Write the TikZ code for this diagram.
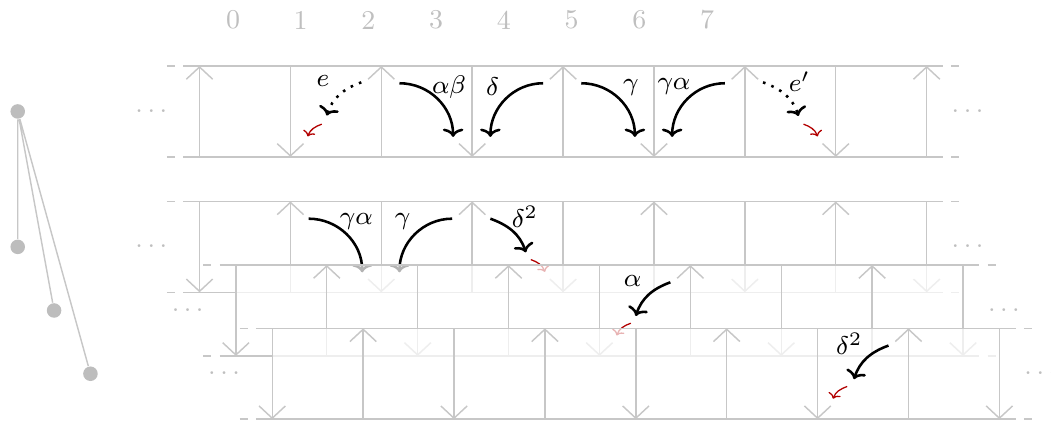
\documentclass[tikz,border=0pt]{standalone}
\usepackage{tikz}
\usetikzlibrary{arrows.meta}

\begin{document}
\begin{tikzpicture}[
	rail/.style={black!22, line width=0.45pt},
	rung/.style={black!22, line width=0.45pt, -{Straight Barb[length=0.135cm, width=0.29cm]}},
	veil/.style={fill=white, fill opacity=0.7},
	lab/.style={anchor=base, inner sep=0pt, font=\fontsize{8.5}{10}\selectfont},
	ell/.style={black!25, inner sep=0pt, font=\fontsize{8.5}{10}\selectfont},
	mor/.style={thick, -{To[length=2.6pt, width=6.4pt]}},
	kick/.style={red!70!black, line width=0.4pt, -{To[length=1.6pt, width=4pt]}},
	leaf/.style={circle, fill=black!26, inner sep=0pt, minimum size=0.16cm},
	twig/.style={black!22, line width=0.45pt}]
			\useasboundingbox (-2.195,-3.905) rectangle (9.368,0.726);
			% positions on top
			\foreach \n in {0,...,7}
				\node[ell] (p\n) at (0.3685+0.745*\n,0.506) {\n};
			% the tree on the left
			\node[leaf] (t0) at (-2,-0.5) {};
			\node[leaf] (t1) at (-2,-1.99) {};
			\node[leaf] (t2) at (-1.6,-2.69) {};
			\node[leaf] (t3) at (-1.2,-3.386) {};
			\draw[twig] (t0) -- (t1) (t0) -- (t2) (t0) -- (t3);
			% strip 1
			\begin{scope}
			\foreach \y in {0,-1}
				\draw[rail] (-0.36,\y) -- (-0.27,\y) (-0.18,\y) -- (8.18,\y) (8.27,\y) -- (8.36,\y);
			\foreach \k in {0,2,...,8} \draw[rung] (\k,-1) -- (\k,0);
			\foreach \k in {1,3,...,7} \draw[rung] (\k,0) -- (\k,-1);
			\node[ell] (la) at (-0.53,-0.5) {$\cdots$};
			\node[ell] (ra) at (8.45,-0.5) {$\cdots$};
			\draw[mor, dotted] (1.78,-0.18) to[out=200, in=72] (1.40,-0.545);
			\draw[kick] (1.345,-0.64) to[out=200, in=70] (1.19,-0.775);
			\node[lab] (e) at (1.357,-0.227) {$e$};
			\draw[mor] (2.2,-0.19) to[out=0, in=90] (2.79,-0.78);
			\node[lab] (ab) at (2.745,-0.30) {$\alpha\beta$};
			\draw[mor] (3.78,-0.19) to[out=180, in=90] (3.2,-0.78);
			\node[lab] (d) at (3.225,-0.32) {$\delta$};
			\draw[mor] (4.2,-0.19) to[out=0, in=90] (4.79,-0.78);
			\node[lab] (g) at (4.745,-0.266) {$\gamma$};
			\draw[mor] (5.78,-0.19) to[out=180, in=90] (5.2,-0.78);
			\node[lab] (ga) at (5.22,-0.256) {$\gamma\alpha$};
			\draw[mor, dotted] (6.2,-0.18) to[out=-20, in=108] (6.59,-0.55);
			\draw[kick] (6.645,-0.64) to[out=-20, in=110] (6.8,-0.775);
			\node[lab] (e2) at (6.6,-0.28) {$e'$};
			\end{scope}
			% strip 2
			\begin{scope}[shift={(0,-1.49)}]
			\foreach \y in {0,-1}
				\draw[rail] (-0.36,\y) -- (-0.27,\y) (-0.18,\y) -- (8.18,\y) (8.27,\y) -- (8.36,\y);
			\foreach \k in {0,2,...,8} \draw[rung] (\k,0) -- (\k,-1);
			\foreach \k in {1,3,...,7} \draw[rung] (\k,-1) -- (\k,0);
			\node[ell] (lb) at (-0.53,-0.5) {$\cdots$};
			\node[ell] (rb) at (8.45,-0.5) {$\cdots$};
			\draw[mor] (1.2,-0.19) to[out=0, in=90] (1.79,-0.78);
			\node[lab] (ga2) at (1.726,-0.259) {$\gamma\alpha$};
			\draw[mor] (2.78,-0.19) to[out=180, in=90] (2.2,-0.78);
			\node[lab] (g2) at (2.235,-0.259) {$\gamma$};
			\draw[mor] (3.2,-0.19) to[out=-20, in=108] (3.59,-0.56);
			\draw[kick] (3.645,-0.64) to[out=-20, in=110] (3.8,-0.775);
			\node[lab] (dd) at (3.58,-0.285) {$\delta^2$};
			\end{scope}
			% strip 3
			\begin{scope}[shift={(0.4,-2.19)}]
			\fill[veil] (0,0) rectangle (8,-1);
			\foreach \y in {0,-1}
				\draw[rail] (-0.36,\y) -- (-0.27,\y) (-0.18,\y) -- (8.18,\y) (8.27,\y) -- (8.36,\y);
			\foreach \k in {0,2,...,8} \draw[rung] (\k,0) -- (\k,-1);
			\foreach \k in {1,3,...,7} \draw[rung] (\k,-1) -- (\k,0);
			\node[ell] (lc) at (-0.53,-0.5) {$\cdots$};
			\node[ell] (rc) at (8.45,-0.5) {$\cdots$};
			\draw[mor] (4.78,-0.19) to[out=200, in=72] (4.40,-0.56);
			\draw[kick] (4.345,-0.64) to[out=200, in=70] (4.19,-0.775);
			\node[lab] (a3) at (4.366,-0.238) {$\alpha$};
			\end{scope}
			% strip 4
			\begin{scope}[shift={(0.8,-2.886)}]
			\fill[veil] (0,0) rectangle (8,-1);
			\foreach \y in {0,-1}
				\draw[rail] (-0.36,\y) -- (-0.27,\y) (-0.18,\y) -- (8.18,\y) (8.27,\y) -- (8.36,\y);
			\foreach \k in {0,2,...,8} \draw[rung] (\k,0) -- (\k,-1);
			\foreach \k in {1,3,...,7} \draw[rung] (\k,-1) -- (\k,0);
			\node[ell] (ld) at (-0.53,-0.5) {$\cdots$};
			\node[ell] (rd) at (8.45,-0.5) {$\cdots$};
			\draw[mor] (6.78,-0.19) to[out=200, in=72] (6.40,-0.56);
			\draw[kick] (6.325,-0.64) to[out=200, in=70] (6.17,-0.775);
			\node[lab] (dd4) at (6.349,-0.293) {$\delta^2$};
			\end{scope}
			\end{tikzpicture}
\end{document}
